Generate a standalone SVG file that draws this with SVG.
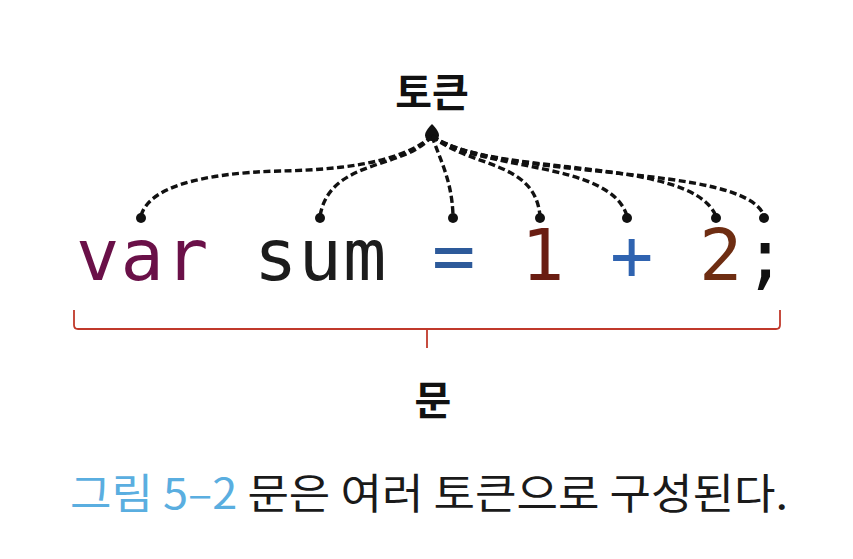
<svg xmlns="http://www.w3.org/2000/svg" width="853" height="559" viewBox="0 0 853 559">
  <style>
    .lbl { font-family: "Noto Sans CJK KR", "Noto Sans", sans-serif; font-weight: bold; fill: #111; text-anchor: middle; }
    .code { font-family: "DejaVu Sans Mono", "Liberation Mono", monospace; font-size: 72px; letter-spacing: 1.15px; }
    .conn { fill: none; stroke: #111; stroke-width: 3.4; stroke-dasharray: 7 3.5; }
    .dot { fill: #111; }
    .brace { fill: none; stroke: #c0392b; stroke-width: 1.8; stroke-linejoin: round; }
    .cap { font-family: "Noto Sans CJK KR", "Noto Sans", sans-serif; font-size: 42px; }
  </style>
  <rect width="853" height="559" fill="#ffffff"/>

  <g id="token-label">
    <text class="lbl" x="432" y="107" font-size="40">토큰</text>
    <path class="dot" d="M432,124 C436,128 439,132 439,135.5 A7,5.5 0 0 1 425,135.5 C425,132 428,128 432,124 Z"/>
  </g>

  <g id="connectors">
    <path class="conn" d="M432,136 C400,165 330,170 280,171 C200,173 148,188 141,216"/>
    <path class="conn" d="M432,136 C405,170 330,158 320,216"/>
    <path class="conn" d="M432,136 C440,160 452,180 453,216"/>
    <path class="conn" d="M432,136 C470,168 535,160 540,216"/>
    <path class="conn" d="M432,136 C480,172 610,160 627,216"/>
    <path class="conn" d="M432,136 C490,178 690,155 716,216"/>
    <path class="conn" d="M432,136 C500,182 745,162 764,216"/>
  </g>

  <g id="tok-var">
    <circle class="dot" cx="141" cy="218" r="5"/>
    <text class="code" x="76" y="280" fill="#6a1048">var</text>
  </g>
  <g id="tok-sum">
    <circle class="dot" cx="320" cy="218" r="5"/>
    <text class="code" x="254" y="280" fill="#1c1c1c">sum</text>
  </g>
  <g id="tok-eq">
    <circle class="dot" cx="453" cy="218" r="5"/>
    <text class="code" x="432" y="280" fill="#2d5a9a">=</text>
  </g>
  <g id="tok-1">
    <circle class="dot" cx="540" cy="218" r="5"/>
    <text class="code" x="521" y="280" fill="#6a1d12">1</text>
  </g>
  <g id="tok-plus">
    <circle class="dot" cx="627" cy="218" r="5"/>
    <text class="code" x="610" y="280" fill="#2f63b0">+</text>
  </g>
  <g id="tok-2">
    <circle class="dot" cx="716" cy="218" r="5"/>
    <text class="code" x="699" y="280" fill="#6e2d12">2</text>
  </g>
  <g id="tok-semi">
    <circle class="dot" cx="764" cy="218" r="5"/>
    <text class="code" x="743.5" y="280" fill="#111">;</text>
  </g>

  <g id="statement">
    <path class="brace" d="M74,310 L74,325 Q74,329 78,329 L776,329 Q780,329 780,325 L780,310"/>
    <path class="brace" d="M427,329 L427,348"/>
    <text class="lbl" x="433" y="415" font-size="40">문</text>
  </g>

  <g id="caption">
    <text class="cap" x="70" y="509" textLength="718" lengthAdjust="spacingAndGlyphs"><tspan fill="#5aaee0">그림 5–2</tspan><tspan fill="#1a1a1a"> 문은 여러 토큰으로 구성된다.</tspan></text>
  </g>
</svg>
